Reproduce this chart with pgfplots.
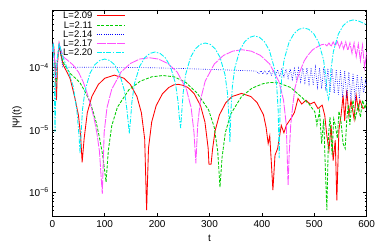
\documentclass[border=0pt]{standalone}
\usepackage{fontspec}
\setmainfont{Liberation Sans}
\usepackage{pgfplots}
\pgfplotsset{compat=1.18}
\definecolor{cRed}{RGB}{255,0,0}
\definecolor{cGreen}{RGB}{0,205,0}
\definecolor{cBlue}{RGB}{0,0,255}
\definecolor{cMag}{RGB}{255,80,255}
\definecolor{cCyan}{RGB}{0,240,245}
\begin{document}
\begin{tikzpicture}
\begin{axis}[
  scale only axis, width=314.4pt, height=206.7pt,
  at={(0,0)}, anchor=south west,
  ymode=log, xmin=0, xmax=600, ymin=4e-7, ymax=8.5e-4,
  xtick={0,100,200,300,400,500,600},
  ytick={1e-6,1e-5,1e-4},
  yticklabels={10\textsuperscript{−6},10\textsuperscript{−5},10\textsuperscript{−4}},
  minor ytick={5e-7,6e-7,7e-7,8e-7,9e-7,2e-6,3e-6,4e-6,5e-6,6e-6,7e-6,8e-6,9e-6,2e-5,3e-5,4e-5,5e-5,6e-5,7e-5,8e-5,9e-5,2e-4,3e-4,4e-4,5e-4,6e-4,7e-4,8e-4},
  /pgf/number format/assume math mode=true,
  tick label style={font=\fontsize{10}{12}\selectfont},
  major tick length=4pt, minor tick length=2pt,
  tick style={black, line width=0.5pt},
  axis line style={line width=0.6pt},
  every axis x label/.style={at={(axis description cs:0.5,-0.105)},anchor=center},
  every axis y label/.style={at={(axis description cs:-0.112,0.48)},rotate=90,anchor=center},
  label style={font=\fontsize{10}{12}\selectfont},
  xlabel={t}, ylabel={|Ψ|(t)},
  every axis plot/.append style={line width=0.85pt},
]
\addplot[color=cRed, solid] coordinates {
(0,1.8e-4)(2,2.5e-4)(4,1.5e-4)(6,8e-5)(8,3e-5)(10,1.2e-4)(13,2.4e-4)(16,1.7e-4)(21,1.1e-4)(28,8.5e-5)(34,6.7e-5)(43,3.3e-5)(50,1.7e-5)(54,8e-6)(57,3e-6)
(60.7,7.15e-6)(66.8,1.89e-5)(75.5,3.45e-5)(87.8,5.37e-5)(100,6.77e-5)(118.5,7.6e-5)(137,6.77e-5)(149,5.37e-5)(161.5,3.45e-5)(170,1.89e-5)(176.3,7.15e-6)(180,5.1e-7)
(183.6,5.08e-6)(189.7,1.34e-5)(198.2,2.45e-5)(210.3,3.82e-5)(222.4,4.81e-5)(232,5.3e-5)(240.5,5.4e-5)(250,5.2e-5)(258.7,4.81e-5)(270.8,3.82e-5)(282.9,2.45e-5)(291.3,1.34e-5)(297.4,5.08e-6)(299,2.8e-6)(303,2.8e-6)
(306,5e-6)(310.6,9.6e-6)(319,1.75e-5)(331,2.73e-5)(343,3.44e-5)(361,3.86e-5)(379,3.44e-5)(391,2.73e-5)(403,1.75e-5)(408,1.1e-5)(412,6e-6)(415,8e-6)(418,3e-6)(421,1.07e-6)
(425,3.9e-6)(430,5e-6)(437,1.18e-5)(442,9e-6)(447,1.2e-5)(456,1.55e-5)(462,1.9e-5)(469,3.2e-5)(476,2.6e-5)(484,3.0e-5)(492,2.6e-5)(500,2.8e-5)(507,2.2e-5)(515,2.5e-5)(520,1.7e-5)(524,8e-6)(528,4.7e-6)(532,1.2e-5)(536,3.2e-6)(540,6.8e-6)(543,7.3e-7)(547,1e-5)(551,1.7e-5)(555,3.6e-5)(558,1.4e-5)(562,4.4e-5)(566,1.7e-5)(570,3e-5)(576,1.5e-5)(580,3.6e-5)(584,2.1e-5)(587,3e-5)(593,2.2e-5)(600,2.5e-5)
};
\addplot[color=cGreen, dash pattern=on 3pt off 1.5pt] coordinates {
(0,1.8e-4)(2,2.5e-4)(4,1.5e-4)(6,9e-5)(8,6e-5)(10,1.3e-4)(13,2.4e-4)(16,1.7e-4)(20,1.25e-4)(27,1e-4)(34,8.1e-5)(44,6.8e-5)(53,5.7e-5)(60,4.5e-5)(66,3.6e-5)(72,2.8e-5)(78,1.95e-5)(84,1.3e-5)(90,7.5e-6)(96,4e-6)(102.6,1.45e-6)
(107,4.7e-6)(113.5,1.17e-5)(124.3,2.32e-5)(146.1,4.41e-5)(167.8,6.07e-5)(189.6,7.13e-5)(211.3,7.5e-5)(233,7.13e-5)(254.8,5.8e-5)(276.5,3.9e-5)(298.3,2.1e-5)(309.1,1.1e-5)(315.7,4.5e-6)(320,1.2e-6)
(324,3.6e-6)(330.2,9e-6)(340.4,1.79e-5)(360.8,3.41e-5)(381.2,4.69e-5)(401.6,5.52e-5)(416,5.8e-5)(432,5.7e-5)(455,4.8e-5)(475,3.4e-5)(490,2.6e-5)(501,1.95e-5)(505,1.2e-5)(510,2e-5)(514,6e-6)(518,1.5e-5)(521,2.5e-6)(524,5.1e-7)
(527,8e-6)(530,1.6e-5)(534,4e-6)(537,1.5e-5)(540,1.2e-5)(544,7.3e-6)(547,2e-5)(551,1.35e-5)(555,6e-6)(559,5e-6)(562,1.5e-5)(565,2.5e-5)(568,1.2e-5)(570,1.95e-5)(574,3e-5)(578,1.5e-5)(584,2.5e-5)(588,1.6e-5)(592,3e-5)(597,2.2e-5)(600,2.8e-5)
};
\addplot[color=cBlue, dash pattern=on 0.7pt off 1.5pt, line width=0.65pt] coordinates {
(0,1.8e-4)(2,2.5e-4)(4,1.5e-4)(6,1.0e-4)(8,9e-5)(10,1.5e-4)(13,2.4e-4)(16,1.6e-4)(20,1.03e-4)(25,1.02e-4)(100,1.02e-4)(190,1.0e-4)(250,9.7e-5)(300,9.4e-5)(350,9.1e-5)(380,8.9e-5)
(390,8.8e-5)(394,8.0e-5)(398,9.0e-5)(402,7.9e-5)(406,9.0e-5)(410,7.7e-5)(414,9.1e-5)(418,7.6e-5)(422,9.2e-5)(426,7.4e-5)(430,9.3e-5)(434,7.2e-5)(438,9.4e-5)(442,7.0e-5)(446,9.5e-5)(450,6.8e-5)(454,9.6e-5)(458,6.5e-5)(462,9.7e-5)(466,6.3e-5)(470,9.8e-5)(474,6.0e-5)(478,9.9e-5)(482,5.8e-5)(486,1.0e-4)(490,5.5e-5)(494,1.0e-4)(498,5.2e-5)(502,1.02e-4)(506,4.9e-5)(510,1.0e-4)(514,4.6e-5)(518,1.0e-4)(522,4.3e-5)(526,9.8e-5)(530,4.1e-5)(534,9.6e-5)(538,3.9e-5)(542,9.4e-5)(546,3.7e-5)(550,9.1e-5)(554,3.4e-5)(558,8.8e-5)(562,3.2e-5)(566,8.5e-5)(570,3.0e-5)(574,8.2e-5)(578,2.9e-5)(582,7.8e-5)(586,3.2e-5)(590,7.2e-5)(594,4.0e-5)(598,6.2e-5)(600,5.2e-5)
};
\addplot[color=cMag, dash pattern=on 9pt off 1.2pt] coordinates {
(0,1.8e-4)(2,2.5e-4)(4,1.5e-4)(6,7e-5)(8,7e-5)(10,1.4e-4)(13,2.5e-4)(16,2e-4)(21,1.5e-4)(30,1.3e-4)(40,1.1e-4)(50,8.5e-5)(59,5.9e-5)(64,4.5e-5)(69,3.3e-5)(75,2.2e-5)(80,1.5e-5)(85,9e-6)(90,4.5e-6)(95.4,9.3e-7)
(99,9.1e-6)(104.3,2.26e-5)(113.3,4.48e-5)(131.1,8.53e-5)(149,1.17e-4)(166.8,1.38e-4)(184.7,1.45e-4)(202.6,1.38e-4)(220.4,1.17e-4)(238.3,8.53e-5)(256.1,4.48e-5)(265,2.26e-5)(270.4,9.1e-6)(274,2.9e-6)
(277.5,1.22e-5)(282.8,3.04e-5)(291.6,6.03e-5)(309.2,1.15e-4)(326.8,1.58e-4)(344.4,1.85e-4)(362,1.95e-4)(379.6,1.85e-4)(397.2,1.58e-4)(414.8,1.15e-4)(432.4,6.03e-5)(441.2,3.04e-5)(446.5,1.22e-5)(450,1.29e-6)
(452,4e-6)(455,1.2e-5)(459,2.5e-5)(463,4.7e-5)(469,7.2e-5)(475,9.8e-5)(481,1.3e-4)(488,1.6e-4)(497,1.95e-4)(507,2.2e-4)(514,2.35e-4)(520,2.4e-4)(524,2.25e-4)(528,2.5e-4)(532,2.2e-4)(536,2.6e-4)(540,2.25e-4)(544,2.65e-4)(548,2.1e-4)(552,2.6e-4)(556,2.0e-4)(560,2.6e-4)(564,1.9e-4)(568,2.5e-4)(572,1.7e-4)(576,2.5e-4)(580,1.5e-4)(584,2.4e-4)(588,1.3e-4)(592,2.3e-4)(596,1.0e-4)(600,1.8e-4)
};
\addplot[color=cCyan, dash pattern=on 5pt off 1.5pt on 1.5pt off 1.5pt] coordinates {
(0,1.8e-4)(2,2.5e-4)(3.5,8e-5)(5.2,9.3e-6)(7,6e-5)(9,1.3e-4)(13,2.5e-4)(16,2e-4)(20,1.5e-4)(30,9e-5)(40,5e-5)(47,2e-5)(51,8e-6)(53,4.2e-6)
(54.9,8.7e-6)(57.7,2.15e-5)(62.4,4.26e-5)(71.8,8.1e-5)(81.2,1.12e-4)(90.6,1.31e-4)(100,1.38e-4)(109.4,1.31e-4)(118.8,1.12e-4)(128.2,8.1e-5)(137.6,4.26e-5)(142.3,2.15e-5)(145,1.3e-5)(147,8.8e-6)
(149.9,1.68e-5)(151.9,2.79e-5)(156.8,5.53e-5)(166.6,1.05e-4)(176.4,1.45e-4)(186.2,1.70e-4)(196,1.79e-4)(205.8,1.70e-4)(215.6,1.45e-4)(225.4,1.05e-4)(235.2,5.53e-5)(240.1,2.79e-5)(242.1,1.68e-5)(245,1.07e-5)
(247.8,2.35e-5)(249.7,3.9e-5)(254.4,7.73e-5)(263.8,1.47e-4)(273.2,2.02e-4)(282.6,2.38e-4)(292,2.5e-4)(301.4,2.38e-4)(310.8,2.02e-4)(320.2,1.47e-4)(329.6,7.73e-5)(334.3,3.9e-5)(337.1,1.57e-5)(339,6.4e-6)
(340.9,2.04e-5)(343.7,5.07e-5)(348.4,1.0e-4)(357.8,1.91e-4)(367.2,2.63e-4)(376.6,3.09e-4)(386,3.25e-4)(395.4,3.09e-4)(404.8,2.63e-4)(414.2,1.91e-4)(423.6,1.0e-4)(428.3,5.07e-5)(431.1,2.04e-5)(433,3.5e-6)
(434.9,2.74e-5)(437.7,6.8e-5)(442.4,1.35e-4)(451.8,2.57e-4)(461.2,3.54e-4)(470.6,4.16e-4)(480,4.37e-4)(489.4,4.16e-4)(498.8,3.54e-4)(508.2,2.57e-4)(517.6,1.35e-4)(522.3,6.8e-5)(524.3,4.1e-5)(527,3.1e-5)
(528.9,3.7e-5)(531.7,9.2e-5)(536.4,1.82e-4)(545.8,3.47e-4)(555.2,4.77e-4)(564.6,5.6e-4)(574,5.88e-4)(583.4,5.7e-4)(590,5.4e-4)(600,4.9e-4)
};
% key: sample lines through the axis, labels beside them
\addplot[forget plot, color=cRed, solid, line width=0.9pt] coordinates {(85.3,6.90e-4)(138.7,6.90e-4)};
\addplot[forget plot, color=cGreen, dash pattern=on 3pt off 1.5pt, line width=0.9pt] coordinates {(85.3,4.88e-4)(138.7,4.88e-4)};
\addplot[forget plot, color=cBlue, dash pattern=on 0.7pt off 1.5pt, line width=0.8pt] coordinates {(85.3,3.457e-4)(138.7,3.457e-4)};
\addplot[forget plot, color=cMag, dash pattern=on 9pt off 1.2pt, line width=0.9pt] coordinates {(85.3,2.475e-4)(138.7,2.475e-4)};
\addplot[forget plot, color=cCyan, dash pattern=on 5pt off 1.5pt on 1.5pt off 1.5pt, line width=0.9pt] coordinates {(85.3,1.745e-4)(138.7,1.745e-4)};
\begin{scope}[every node/.style={anchor=east, inner sep=0pt, font=\fontsize{9.5}{11}\selectfont}]
\node at (axis cs:77.1,6.90e-4) {L=2.09};
\node at (axis cs:77.1,4.88e-4) {L=2.11};
\node at (axis cs:77.1,3.457e-4) {L=2.14};
\node at (axis cs:77.1,2.475e-4) {L=2.17};
\node at (axis cs:77.1,1.745e-4) {L=2.20};
\end{scope}
\end{axis}
\pgfresetboundingbox
\path (-52.3pt,-28.3pt) rectangle (329.7pt,216.7pt);
\end{tikzpicture}
\end{document}
